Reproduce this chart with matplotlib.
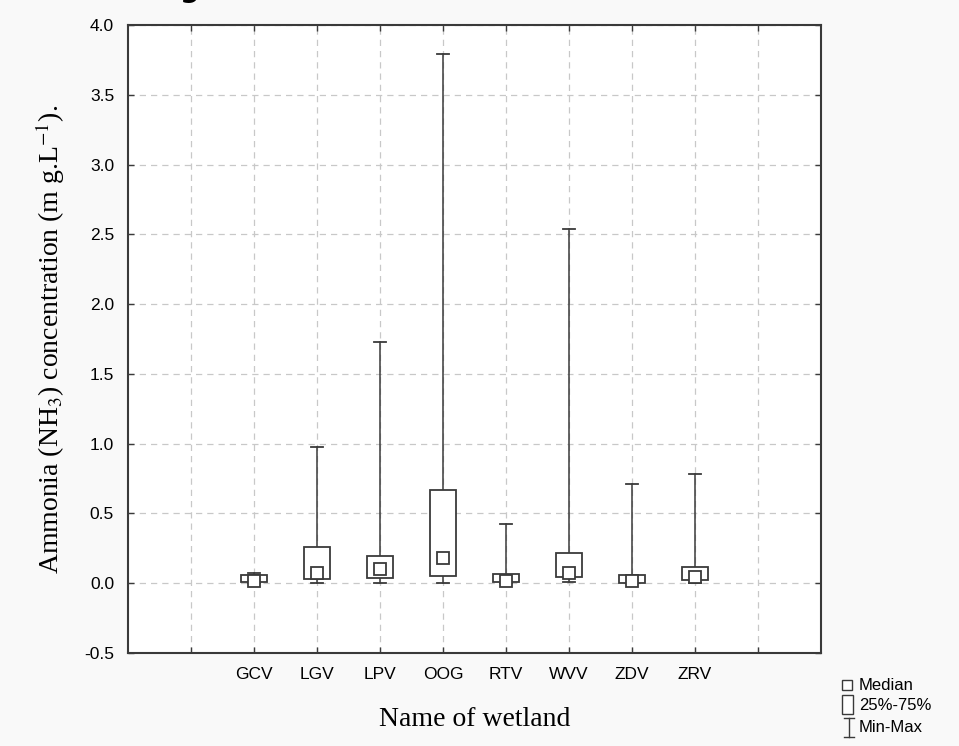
import numpy as np
import matplotlib
matplotlib.use("Agg")
import matplotlib.pyplot as plt
from matplotlib.patches import Rectangle
from matplotlib.lines import Line2D

# wetland summary stats (mg/L)
wetlands = ["GCV", "LGV", "LPV", "OOG", "RTV", "WVV", "ZDV", "ZRV"]
q_min = [0.00, 0.004, 0.00, 0.004, 0.00, 0.01, 0.004, 0.004]
q25 = [0.011, 0.03, 0.035, 0.054, 0.006, 0.042, 0.004, 0.02]
median = [0.015, 0.07, 0.10, 0.183, 0.015, 0.07, 0.015, 0.042]
q75 = [0.056, 0.257, 0.197, 0.668, 0.064, 0.214, 0.059, 0.118]
q_max = [0.073, 0.975, 1.725, 3.79, 0.426, 2.535, 0.711, 0.785]
yticks = np.arange(-0.5, 4.01, 0.5)

EDGE = "#3a3a3a"
W, H = 959, 746
fig = plt.figure(figsize=(W / 100, H / 100), dpi=100, facecolor="#f9f9f9")
ax = fig.add_axes([128 / W, 1 - 653 / H, (821 - 128) / W, (653 - 25) / H])
ax.set_facecolor("white")

pos = np.arange(2, 2 + len(wetlands))
box_w, cap_w = 0.41, 0.19
for x, lo, a, m, b, hi in zip(pos, q_min, q25, median, q75, q_max):
    ax.plot([x, x], [b, hi], color=EDGE, lw=1.1, zorder=3)
    ax.plot([x, x], [lo, a], color=EDGE, lw=1.1, zorder=3)
    ax.plot([x - cap_w / 2, x + cap_w / 2], [hi, hi], color=EDGE, lw=1.3, zorder=3)
    ax.plot([x - cap_w / 2, x + cap_w / 2], [lo, lo], color=EDGE, lw=1.3, zorder=3)
    ax.add_patch(Rectangle((x - box_w / 2, a), box_w, b - a, fc="white",
                           ec=EDGE, lw=1.3, zorder=4))
    ax.plot([x], [m], marker="s", ms=8.5, mfc="white", mec=EDGE, mew=1.3,
            ls="none", zorder=5)

ax.set_xlim(0, 11)
ax.set_ylim(-0.5, 4.0)
ax.set_xticks(range(1, 11))
ax.set_xticklabels([""] + wetlands + [""])
ax.set_yticks(yticks)
ax.set_yticklabels(["%.1f" % v for v in yticks])
ax.grid(True, ls=(0, (5, 4)), color="#c8c8c8", lw=0.9)
ax.set_axisbelow(True)
ax.tick_params(direction="in", top=True, right=True, length=4, width=1,
               color=EDGE, labelsize=12.5, pad=10)
for lab in ax.get_xticklabels() + ax.get_yticklabels():
    lab.set_family("Liberation Sans")
for s in ax.spines.values():
    s.set_color(EDGE)
    s.set_linewidth(1.5)

ax.set_ylabel(r"Ammonia (NH$_3$) concentration (m g.L$^{-1}$).",
              family="Liberation Serif", fontsize=20, labelpad=12)
ax.yaxis.label.set_math_fontfamily("stix")
ax.set_xlabel("Name of wetland", family="Liberation Serif", fontsize=20,
              labelpad=18)

# cropped title fragment at the very top
fig.text(190 / W, 1 + 3 / H, "g", ha="center", va="baseline",
         fontsize=20, weight="bold")

# legend panel
lg = fig.add_axes([0, 0, 1, 1], facecolor="none")
lg.set_xlim(0, W)
lg.set_ylim(H, 0)
lg.axis("off")
lg.add_patch(Rectangle((842, 680), 10, 10, fc="white", ec=EDGE, lw=1))
lg.add_patch(Rectangle((842, 695), 11, 19, fc="white", ec=EDGE, lw=1))
lg.add_line(Line2D([849, 849], [718, 737], color=EDGE, lw=1))
lg.add_line(Line2D([844, 854], [718, 718], color=EDGE, lw=1))
lg.add_line(Line2D([844, 854], [737, 737], color=EDGE, lw=1))
for ty, txt in [(685, "Median"), (706, "25%-75%"), (728, "Min-Max")]:
    lg.text(859, ty, txt, va="center", ha="left", fontsize=12,
            family="Liberation Sans")

fig.savefig("out.png", dpi=100, facecolor=fig.get_facecolor())
